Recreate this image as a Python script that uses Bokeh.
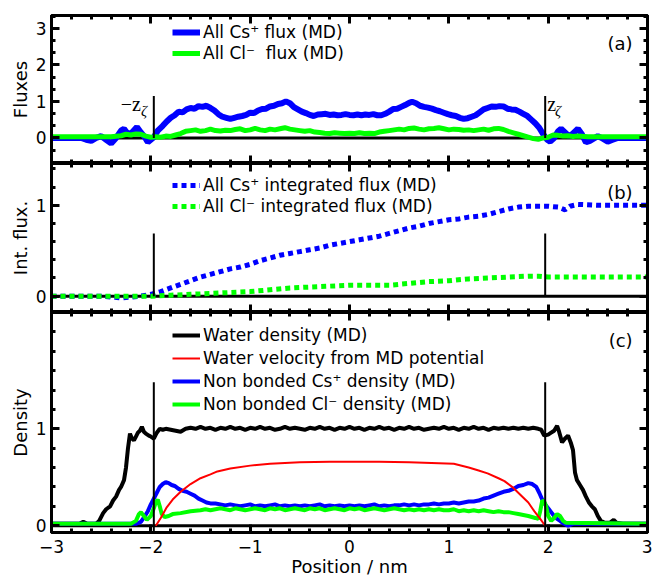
from bokeh.plotting import figure
from bokeh.layouts import column
from bokeh.models import (Range1d, LinearAxis, SingleIntervalTicker, FixedTicker, Span, Label,
                          Legend, LegendItem, CustomJSTickFormatter)
from bokeh.embed import file_html
from bokeh.resources import INLINE

FONT = "DejaVu Sans"
SERIF = "Liberation Serif"
BLUE = "#0000ff"
GREEN = "#00ff00"
RED = "#ff0000"
BLACK = "#000000"

# ---------------- data ----------------
z_zeta = 1.97

# (a) fluxes
cs_flux_x = [-3.0, -2.8, -2.7, -2.65, -2.6, -2.55, -2.5, -2.45, -2.4, -2.35, -2.3, -2.27, -2.23, -2.19, -2.14,
             -2.1, -2.06, -2.03, -2.0, -1.97, -1.93, -1.88, -1.84, -1.8, -1.76, -1.72, -1.68, -1.64, -1.6, -1.56,
             -1.52, -1.48, -1.44, -1.4, -1.36, -1.32, -1.28, -1.24, -1.2, -1.16, -1.12, -1.08, -1.04, -1.0, -0.96,
             -0.92, -0.88, -0.84, -0.8, -0.76, -0.72, -0.68, -0.64, -0.6, -0.56, -0.52, -0.48, -0.44, -0.4, -0.36,
             -0.32, -0.28, -0.24, -0.2, -0.16, -0.12, -0.08, -0.04, 0.0, 0.04, 0.08, 0.12, 0.16, 0.2, 0.24, 0.28,
             0.32, 0.36, 0.4, 0.44, 0.48, 0.52, 0.56, 0.6, 0.63, 0.67, 0.71, 0.75, 0.79, 0.83, 0.87, 0.91, 0.95,
             0.99, 1.03, 1.07, 1.11, 1.15, 1.19, 1.23, 1.27, 1.31, 1.35, 1.39, 1.43, 1.47, 1.51, 1.55, 1.59, 1.63,
             1.67, 1.71, 1.75, 1.79, 1.83, 1.87, 1.91, 1.95, 1.99, 2.02, 2.06, 2.1, 2.13, 2.17, 2.21, 2.25, 2.3,
             2.34, 2.38, 2.42, 2.47, 2.5, 2.55, 2.6, 2.65, 2.7, 2.8, 3.0]
cs_flux_y = [0.0, 0.0, 0.0, -0.05, -0.08, 0.0, 0.05, -0.05, -0.15, 0.0, 0.2, 0.25, 0.1, 0.15, 0.3,
             0.15, 0.02, -0.12, -0.05, 0.02, 0.2, 0.33, 0.45, 0.55, 0.62, 0.72, 0.7, 0.78, 0.82, 0.8,
             0.87, 0.85, 0.88, 0.82, 0.75, 0.65, 0.58, 0.55, 0.52, 0.55, 0.58, 0.6, 0.63, 0.69, 0.68,
             0.75, 0.79, 0.8, 0.86, 0.88, 0.93, 0.95, 1.0, 0.95, 0.84, 0.78, 0.72, 0.68, 0.63, 0.6,
             0.64, 0.65, 0.66, 0.63, 0.64, 0.62, 0.63, 0.65, 0.63, 0.62, 0.64, 0.62, 0.64, 0.63, 0.65, 0.62,
             0.62, 0.66, 0.72, 0.79, 0.8, 0.85, 0.9, 0.96, 0.99, 0.95, 0.88, 0.85, 0.83, 0.8, 0.76, 0.73, 0.69,
             0.65, 0.62, 0.6, 0.55, 0.52, 0.54, 0.58, 0.62, 0.7, 0.78, 0.82, 0.86, 0.85, 0.87, 0.86, 0.8, 0.78,
             0.77, 0.72, 0.66, 0.6, 0.5, 0.4, 0.28, 0.1, -0.05, -0.1, 0.0, 0.18, 0.25, 0.15, 0.05, 0.12, 0.25,
             0.1, -0.12, -0.08, 0.0, 0.05, -0.02, -0.1, -0.05, 0.0, 0.0, 0.0]

cl_flux_x = [-3.0, -2.4, -2.3, -2.25, -2.2, -2.15, -2.1, -2.05, -2.0, -1.95, -1.9, -1.85, -1.8, -1.75, -1.7,
             -1.65, -1.6, -1.55, -1.5, -1.45, -1.4, -1.35, -1.3, -1.25, -1.2, -1.15, -1.1, -1.05, -1.0, -0.95,
             -0.9, -0.85, -0.8, -0.75, -0.7, -0.65, -0.6, -0.55, -0.5, -0.45, -0.4, -0.35, -0.3, -0.25, -0.2,
             -0.15, -0.1, -0.05, 0.0, 0.05, 0.1, 0.15, 0.2, 0.25, 0.3, 0.35, 0.4, 0.45, 0.5, 0.55, 0.6, 0.65,
             0.7, 0.75, 0.8, 0.85, 0.9, 0.95, 1.0, 1.05, 1.1, 1.15, 1.2, 1.25, 1.3, 1.35, 1.4, 1.45, 1.5, 1.55,
             1.6, 1.65, 1.7, 1.75, 1.8, 1.85, 1.9, 1.95, 2.0, 2.05, 2.1, 2.15, 2.2, 2.25, 2.3, 2.4, 3.0]
cl_flux_y = [0.03, 0.03, 0.06, 0.1, 0.08, 0.11, 0.1, 0.05, 0.02, 0.03, 0.02, 0.05, 0.04, 0.08, 0.12,
             0.18, 0.2, 0.22, 0.18, 0.2, 0.24, 0.2, 0.19, 0.21, 0.2, 0.23, 0.25, 0.2, 0.22, 0.26,
             0.22, 0.2, 0.24, 0.22, 0.25, 0.28, 0.24, 0.22, 0.2, 0.18, 0.2, 0.16, 0.15, 0.13, 0.12,
             0.14, 0.13, 0.12, 0.13, 0.12, 0.14, 0.12, 0.13, 0.12, 0.16, 0.18, 0.2, 0.22, 0.24, 0.22, 0.26, 0.27,
             0.24, 0.22, 0.25, 0.26, 0.28, 0.25, 0.22, 0.24, 0.23, 0.21, 0.22, 0.2, 0.22, 0.24, 0.21, 0.25, 0.26, 0.23,
             0.18, 0.14, 0.1, 0.06, 0.02, -0.02, -0.04, 0.0, 0.02, 0.08, 0.07, 0.05, 0.06, 0.04, 0.05, 0.03, 0.03]

# (b) integrated fluxes
cs_int_x = [-3.0, -2.5, -2.3, -2.2, -2.1, -2.0, -1.9, -1.8, -1.7, -1.6, -1.5, -1.4, -1.3, -1.2, -1.1, -1.0,
            -0.9, -0.8, -0.7, -0.6, -0.5, -0.4, -0.3, -0.2, -0.1, 0.0, 0.1, 0.2, 0.3, 0.4, 0.5, 0.6, 0.7, 0.8,
            0.9, 1.0, 1.1, 1.2, 1.3, 1.4, 1.5, 1.6, 1.7, 1.8, 1.9, 2.0, 2.1, 2.17, 2.22, 2.3, 2.5, 2.7, 3.0]
cs_int_y = [0.0, 0.0, -0.02, -0.01, 0.0, 0.02, 0.05, 0.09, 0.13, 0.17, 0.21, 0.24, 0.27, 0.3, 0.32, 0.35,
            0.39, 0.42, 0.45, 0.47, 0.49, 0.51, 0.53, 0.56, 0.58, 0.6, 0.62, 0.64, 0.66, 0.69, 0.72, 0.75, 0.77, 0.8,
            0.82, 0.84, 0.85, 0.87, 0.88, 0.9, 0.93, 0.96, 0.98, 0.99, 0.99, 0.99, 0.98, 0.95, 0.99, 1.01, 1.0, 1.0, 1.0]

cl_int_x = [-3.0, -2.0, -1.8, -1.6, -1.4, -1.2, -1.0, -0.8, -0.6, -0.4, -0.2, 0.0, 0.2, 0.4, 0.6, 0.8, 1.0,
            1.2, 1.4, 1.6, 1.8, 1.9, 2.0, 2.2, 2.5, 3.0]
cl_int_y = [0.0, 0.0, 0.01, 0.02, 0.03, 0.04, 0.05, 0.07, 0.09, 0.1, 0.11, 0.12, 0.12, 0.12, 0.14, 0.16, 0.17,
            0.19, 0.2, 0.21, 0.22, 0.22, 0.21, 0.21, 0.21, 0.21]

# (c) densities
water_x = [-3.0, -2.8, -2.72, -2.68, -2.64, -2.55, -2.52, -2.48, -2.45, -2.41, -2.38, -2.35, -2.32, -2.3, -2.27,
           -2.25, -2.23, -2.21, -2.19, -2.17, -2.15, -2.13, -2.11, -2.09, -2.07, -2.05, -2.02, -2.0, -1.97, -1.94,
           -1.91, -1.88, -1.85, -1.8, -1.75, -1.7, -1.65, -1.6, -1.55, -1.5, -1.45, -1.4, -1.35, -1.3, -1.25, -1.2,
           -1.15, -1.1, -1.05, -1.0, -0.95, -0.9, -0.85, -0.8, -0.75, -0.7, -0.65, -0.6, -0.55, -0.5, -0.45, -0.4,
           -0.35, -0.3, -0.25, -0.2, -0.15, -0.1, -0.05, 0.0, 0.05, 0.1, 0.15, 0.2, 0.25, 0.3, 0.35, 0.4, 0.45,
           0.5, 0.55, 0.6, 0.65, 0.7, 0.75, 0.8, 0.85, 0.9, 0.95, 1.0, 1.05, 1.1, 1.15, 1.2, 1.25, 1.3, 1.35,
           1.4, 1.45, 1.5, 1.55, 1.6, 1.65, 1.7, 1.75, 1.8, 1.85, 1.9, 1.93, 1.96, 2.0, 2.03, 2.06, 2.09, 2.11,
           2.14, 2.17, 2.2, 2.23, 2.25, 2.27, 2.29, 2.32, 2.35, 2.38, 2.41, 2.44, 2.47, 2.5, 2.53, 2.57, 2.62,
           2.66, 2.69, 2.75, 3.0]
water_y = [0.02, 0.02, 0.02, 0.04, 0.02, 0.02, 0.05, 0.13, 0.17, 0.2, 0.26, 0.3, 0.37, 0.4, 0.47,
           0.6, 0.8, 0.95, 0.9, 0.88, 0.92, 0.96, 0.98, 1.02, 0.97, 0.95, 0.93, 0.92, 0.9, 0.96,
           1.0, 0.99, 1.0, 0.99, 0.98, 0.97, 1.0, 1.01, 1.0, 1.02, 1.0, 1.01, 0.99, 1.01, 1.0, 1.02,
           1.0, 1.01, 0.99, 1.01, 1.0, 1.02, 1.0, 1.01, 0.99, 1.0, 1.02, 1.0, 1.01, 1.0, 0.99, 1.01,
           1.0, 1.02, 1.0, 1.01, 0.99, 1.01, 1.0, 1.02, 1.0, 1.01, 0.99, 1.01, 1.0, 1.02, 1.0, 1.01, 0.99,
           1.01, 1.0, 1.02, 1.0, 1.01, 0.99, 1.0, 1.01, 1.0, 1.02, 1.0, 1.01, 0.99, 1.01, 1.0, 1.02, 1.0, 1.01,
           0.99, 1.01, 1.0, 1.01, 1.0, 1.01, 1.0, 1.01, 1.0, 1.01, 1.0, 0.99, 0.93, 0.94, 0.96, 0.98, 1.03, 0.97,
           0.86, 0.9, 0.93, 0.85, 0.78, 0.55, 0.47, 0.42, 0.37, 0.3, 0.24, 0.2, 0.17, 0.1, 0.05, 0.03, 0.03,
           0.06, 0.03, 0.02, 0.02]

velocity_x = [-1.95, -1.9, -1.84, -1.78, -1.7, -1.6, -1.5, -1.4, -1.33, -1.2, -1.0, -0.8, -0.5, -0.2, 0.0, 0.3,
              0.6, 0.9, 1.05, 1.2, 1.3, 1.39, 1.5, 1.56, 1.65, 1.73, 1.8, 1.86, 1.92, 1.97]
velocity_y = [0.0, 0.08, 0.19, 0.27, 0.35, 0.43, 0.49, 0.53, 0.56, 0.59, 0.62, 0.64, 0.655, 0.66, 0.66, 0.66,
              0.655, 0.645, 0.64, 0.6, 0.57, 0.54, 0.49, 0.46, 0.39, 0.31, 0.24, 0.15, 0.07, 0.0]

cs_dens_x = [-3.0, -2.5, -2.15, -2.1, -2.06, -2.03, -2.0, -1.97, -1.94, -1.91, -1.88, -1.85, -1.82, -1.79, -1.76,
             -1.72, -1.68, -1.64, -1.6, -1.56, -1.52, -1.48, -1.44, -1.4, -1.35, -1.3, -1.25, -1.2, -1.15, -1.1,
             -1.05, -1.0, -0.95, -0.9, -0.85, -0.8, -0.75, -0.7, -0.65, -0.6, -0.55, -0.5, -0.45, -0.4, -0.35,
             -0.3, -0.25, -0.2, -0.15, -0.1, -0.05, 0.0, 0.05, 0.1, 0.15, 0.2, 0.25, 0.3, 0.35, 0.4, 0.45, 0.5,
             0.55, 0.6, 0.65, 0.7, 0.75, 0.8, 0.85, 0.9, 0.95, 1.0, 1.05, 1.1, 1.15, 1.2, 1.25, 1.3, 1.35, 1.4,
             1.45, 1.5, 1.55, 1.6, 1.65, 1.7, 1.75, 1.8, 1.84, 1.88, 1.91, 1.94, 1.97, 2.0, 2.03, 2.06, 2.09,
             2.12, 2.16, 2.2, 2.25, 3.0]
cs_dens_y = [0.02, 0.02, 0.02, 0.04, 0.1, 0.15, 0.22, 0.28, 0.34, 0.4, 0.43, 0.45, 0.44, 0.42, 0.41,
             0.38, 0.36, 0.35, 0.33, 0.31, 0.28, 0.26, 0.24, 0.23, 0.23, 0.22, 0.21, 0.22, 0.21, 0.2,
             0.21, 0.22, 0.2, 0.21, 0.2, 0.21, 0.22, 0.2, 0.21, 0.2, 0.21, 0.2, 0.21, 0.2, 0.21,
             0.22, 0.2, 0.21, 0.2, 0.21, 0.2, 0.21, 0.2, 0.21, 0.2, 0.21, 0.22, 0.2, 0.21, 0.2, 0.21, 0.21,
             0.22, 0.21, 0.22, 0.21, 0.22, 0.22, 0.23, 0.22, 0.23, 0.23, 0.24, 0.23, 0.24, 0.25, 0.25, 0.26, 0.28, 0.29,
             0.31, 0.33, 0.35, 0.36, 0.38, 0.41, 0.42, 0.44, 0.43, 0.4, 0.34, 0.27, 0.22, 0.18, 0.14, 0.1, 0.07,
             0.05, 0.02, 0.0, 0.02, 0.02]

cl_dens_x = [-3.0, -2.2, -2.15, -2.12, -2.1, -2.07, -2.04, -2.0, -1.97, -1.95, -1.93, -1.91, -1.89, -1.86, -1.82,
             -1.78, -1.7, -1.6, -1.5, -1.45, -1.4, -1.35, -1.3, -1.25, -1.2, -1.15, -1.1, -1.05, -1.0, -0.95,
             -0.9, -0.85, -0.8, -0.75, -0.7, -0.65, -0.6, -0.55, -0.5, -0.45, -0.4, -0.35, -0.3, -0.25, -0.2,
             -0.15, -0.1, -0.05, 0.0, 0.05, 0.1, 0.15, 0.2, 0.25, 0.3, 0.35, 0.4, 0.45, 0.5, 0.55, 0.6, 0.65,
             0.7, 0.75, 0.8, 0.85, 0.9, 0.95, 1.0, 1.05, 1.1, 1.15, 1.2, 1.25, 1.3, 1.35, 1.4, 1.45, 1.5, 1.55,
             1.6, 1.65, 1.7, 1.75, 1.8, 1.87, 1.9, 1.92, 1.94, 1.96, 1.98, 2.0, 2.03, 2.06, 2.09, 2.12, 2.15,
             2.18, 3.0]
cl_dens_y = [0.02, 0.02, 0.05, 0.12, 0.14, 0.1, 0.06, 0.1, 0.18, 0.24, 0.27, 0.2, 0.12, 0.09, 0.1,
             0.12, 0.13, 0.15, 0.16, 0.17, 0.16, 0.17, 0.18, 0.17, 0.16, 0.18, 0.17, 0.16, 0.17, 0.18,
             0.17, 0.16, 0.18, 0.17, 0.18, 0.16, 0.17, 0.18, 0.17, 0.16, 0.18, 0.17, 0.18, 0.16, 0.17,
             0.18, 0.17, 0.16, 0.18, 0.17, 0.18, 0.16, 0.17, 0.18, 0.17, 0.16, 0.17, 0.18, 0.17, 0.16, 0.17, 0.16,
             0.17, 0.16, 0.17, 0.16, 0.17, 0.16, 0.16, 0.17, 0.15, 0.16, 0.15, 0.16, 0.15, 0.16, 0.15, 0.14, 0.15, 0.14,
             0.14, 0.13, 0.12, 0.11, 0.1, 0.08, 0.07, 0.15, 0.26, 0.25, 0.2, 0.1, 0.05, 0.08, 0.12, 0.1, 0.05,
             0.03, 0.02]

# vertical z-marker extents per panel
zline_a = (0.0, 1.15)
zline_b = (0.0, 0.69)
zline_c = (-0.07, 1.48)

yr_a = (-0.7, 3.35)
yr_b = (-0.18, 1.46)
yr_c = (-0.07, 2.2)

# ---------------- helpers ----------------
FRAME_W = 596
LEFT = 51
RIGHT = 5

minus_fmt_code = "return tick < 0 ? '\u2212' + Math.abs(tick) : '' + tick;"


def make_panel(frame_h, yr, top, bottom):
    p = figure(frame_width=FRAME_W, frame_height=frame_h,
               x_range=Range1d(-3, 3), y_range=Range1d(*yr),
               x_axis_location=None, y_axis_location=None,
               output_backend="svg", toolbar_location=None,
               min_border_left=LEFT, min_border_right=RIGHT,
               min_border_top=top, min_border_bottom=bottom)
    p.grid.visible = False
    p.outline_line_color = "black"
    p.outline_line_width = 3
    p.background_fill_color = "white"
    p.border_fill_color = "white"
    p.add_layout(Span(location=0, dimension="width", line_color="black",
                      line_width=3, level="underlay"))
    return p


def add_axis(p, side, ticker, show=False, label=None, label_standoff=5, axis_label_standoff=2):
    ax = LinearAxis(ticker=ticker)
    ax.axis_line_width = 3
    ax.axis_line_color = "black"
    ax.major_tick_in = 8
    ax.major_tick_out = 0
    ax.minor_tick_in = 4
    ax.minor_tick_out = 0
    ax.major_tick_line_width = 3
    ax.minor_tick_line_width = 3
    if show:
        ax.major_label_text_font = FONT
        ax.major_label_text_font_size = "17px"
        ax.major_label_text_color = "black"
        ax.major_label_standoff = label_standoff
        ax.formatter = CustomJSTickFormatter(code=minus_fmt_code)
    else:
        ax.major_label_text_font_size = "0px"
        ax.major_label_text_color = None
        ax.major_label_standoff = 0
    if label:
        ax.axis_label = label
        ax.axis_label_text_font = FONT
        ax.axis_label_text_font_size = "18px"
        ax.axis_label_text_font_style = "normal"
        ax.axis_label_text_color = "black"
        ax.axis_label_standoff = axis_label_standoff
    p.add_layout(ax, side)
    return ax


def xt():
    return SingleIntervalTicker(interval=1, num_minor_ticks=5)


def style_legend(leg, loc, spacing):
    leg.location = loc
    leg.label_text_font = FONT
    leg.label_text_font_size = "17px"
    leg.label_text_color = "black"
    leg.glyph_width = 28
    leg.glyph_height = 20
    leg.label_height = 20
    leg.label_standoff = 3
    leg.spacing = spacing
    leg.padding = 0
    leg.margin = 0
    leg.border_line_color = None
    leg.background_fill_alpha = 0


def zlines(p, ext, w=2):
    p.segment(x0=[-z_zeta, z_zeta], y0=[ext[0], ext[0]], x1=[-z_zeta, z_zeta], y1=[ext[1], ext[1]],
              line_color="black", line_width=w)


def panel_label(p, text, ys):
    p.add_layout(Label(x=2.85, y=ys, y_units="screen", text=text, text_align="right",
                       text_baseline="middle", text_font=FONT, text_font_size="18px",
                       text_color="black"))


# ---------------- panel (a) ----------------
pa = make_panel(148, yr_a, 15, 0)
add_axis(pa, "left", SingleIntervalTicker(interval=1, num_minor_ticks=3), show=True, label="Fluxes")
add_axis(pa, "right", SingleIntervalTicker(interval=1, num_minor_ticks=3))
add_axis(pa, "above", xt())
add_axis(pa, "below", xt())
ra1 = pa.line(cs_flux_x, cs_flux_y, line_color=BLUE, line_width=6)
ra2 = pa.line(cl_flux_x, cl_flux_y, line_color=GREEN, line_width=5)
zlines(pa, zline_a)
leg_a = Legend(items=[LegendItem(label="All Cs\u207a flux (MD)", renderers=[ra1]),
                      LegendItem(label="All Cl\u207b  flux (MD)", renderers=[ra2])])
style_legend(leg_a, (121, 100), 1)
pa.add_layout(leg_a)
panel_label(pa, "(a)", 120)
pa.add_layout(Label(x=-2.1, y=0.93, text="\u2212z", text_align="right", text_baseline="alphabetic",
                    text_font=SERIF, text_font_size="20px", text_color="black"))
pa.add_layout(Label(x=-2.1, y=0.74, text="\u03b6", text_align="left", text_baseline="alphabetic",
                    text_font=SERIF, text_font_style="italic", text_font_size="15px", text_color="black"))
pa.add_layout(Label(x=1.99, y=0.93, text="z", text_align="left", text_baseline="alphabetic",
                    text_font=SERIF, text_font_size="20px", text_color="black"))
pa.add_layout(Label(x=2.07, y=0.74, text="\u03b6", text_align="left", text_baseline="alphabetic",
                    text_font=SERIF, text_font_style="italic", text_font_size="15px", text_color="black"))

# ---------------- panel (b) ----------------
pb = make_panel(149, yr_b, 0, 0)
add_axis(pb, "left", SingleIntervalTicker(interval=1, num_minor_ticks=5), show=True, label="Int. flux.")
add_axis(pb, "right", SingleIntervalTicker(interval=1, num_minor_ticks=5))
add_axis(pb, "above", xt())
add_axis(pb, "below", xt())
rb1 = pb.line(cs_int_x, cs_int_y, line_color=BLUE, line_width=5, line_dash="5 4")
rb2 = pb.line(cl_int_x, cl_int_y, line_color=GREEN, line_width=5, line_dash="5 4")
zlines(pb, zline_b)
leg_b = Legend(items=[LegendItem(label="All Cs\u207a integrated flux (MD)", renderers=[rb1]),
                      LegendItem(label="All Cl\u207b integrated flux (MD)", renderers=[rb2])])
style_legend(leg_b, (121, 96), 1)
pb.add_layout(leg_b)
panel_label(pb, "(b)", 120)

# ---------------- panel (c) ----------------
pc = make_panel(220, yr_c, 0, 48)
yc_minor = [0.2, 0.4, 0.6, 0.8, 1.2, 1.4, 1.6, 1.8, 2.0, 2.2]
add_axis(pc, "left", FixedTicker(ticks=[0, 1], minor_ticks=yc_minor), show=True, label="Density")
add_axis(pc, "right", FixedTicker(ticks=[0, 1], minor_ticks=yc_minor))
add_axis(pc, "above", xt())
add_axis(pc, "below", xt(), show=True, label="Position / nm", label_standoff=7, axis_label_standoff=0)
rc1 = pc.line(water_x, water_y, line_color=BLACK, line_width=4)
rc2 = pc.line(velocity_x, velocity_y, line_color=RED, line_width=2)
rc3 = pc.line(cs_dens_x, cs_dens_y, line_color=BLUE, line_width=4)
rc4 = pc.line(cl_dens_x, cl_dens_y, line_color=GREEN, line_width=4)
pc.renderers.remove(rc2)
pc.renderers.append(rc2)
zlines(pc, zline_c)
leg_c = Legend(items=[LegendItem(label="Water density (MD)", renderers=[rc1]),
                      LegendItem(label="Water velocity from MD potential", renderers=[rc2]),
                      LegendItem(label="Non bonded Cs\u207a density (MD)", renderers=[rc3]),
                      LegendItem(label="Non bonded Cl\u207b density (MD)", renderers=[rc4])])
style_legend(leg_c, (121, 118), 3)
pc.add_layout(leg_c)
panel_label(pc, "(c)", 192)

layout = column(pa, pb, pc, spacing=0)
open("out.html", "w").write(file_html(layout, INLINE))
